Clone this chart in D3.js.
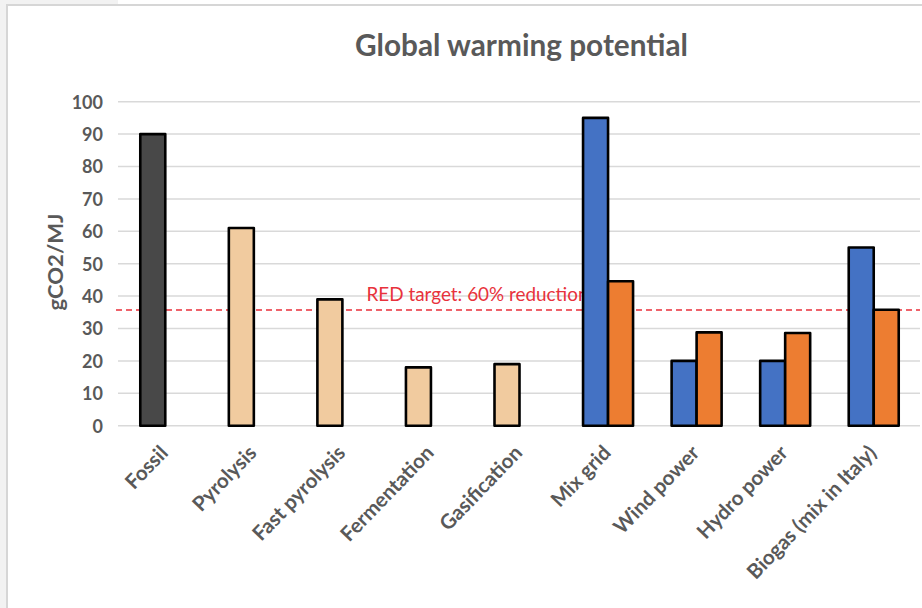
<!DOCTYPE html>
<html>
<head>
<meta charset="utf-8">
<script src="https://cdn.jsdelivr.net/npm/d3@7"></script>
<style>
  html, body { margin: 0; padding: 0; background: #f2f2f2; }
  svg { display: block; }
  text { font-family: Lato, "Open Sans", sans-serif; }
</style>
</head>
<body>
<script>
// Global warming potential of energy carriers, gCO2 per MJ
const categories = ["Fossil", "Pyrolysis", "Fast pyrolysis", "Fermentation", "Gasification",
                    "Mix grid", "Wind power", "Hydro power", "Biogas (mix in Italy)"];
const kinds = ["fossil", "biofuel", "biofuel", "biofuel", "biofuel",
               "electric", "electric", "electric", "electric"];
const firstValues  = [90, 61, 39, 18, 19, 95, 20, 20, 55];
const secondValues = [null, null, null, null, null, 44.6, 28.8, 28.6, 35.8];
const yTicks = [0, 10, 20, 30, 40, 50, 60, 70, 80, 90, 100];
const redTarget = 35.8;
const redLabel = "RED target: 60% reduction";
const title = "Global warming potential";
const yTitle = "gCO2/MJ";

const W = 922, H = 608;
const fills = { fossil: "#484848", biofuel: "#f1cb9f", electric: "#4472c4" };
const secondFill = "#ed7d31";
const textGrey = "#595959";

const svg = d3.select("body").append("svg").attr("width", W).attr("height", H);

// card background and its light frame
svg.append("rect").attr("x", 118).attr("y", 0).attr("width", W - 118).attr("height", 6).attr("fill", "#ffffff");
svg.append("rect").attr("x", 6).attr("y", 4).attr("width", W - 6).attr("height", H - 4)
  .attr("fill", "#ffffff");
svg.append("line").attr("x1", 6).attr("x2", W).attr("y1", 5).attr("y2", 5)
  .attr("stroke", "#d6d6d6").attr("stroke-width", 2);
svg.append("line").attr("x1", 7).attr("x2", 7).attr("y1", 4).attr("y2", H)
  .attr("stroke", "#d6d6d6").attr("stroke-width", 2);

const x = d3.scaleBand().domain(categories).range([121, 918]).padding(0);
const y = d3.scaleLinear().domain([0, 100]).range([425.7, 101.7]);
const barW = 25;

// gridlines
svg.append("g")
  .selectAll("line").data(yTicks).join("line")
  .attr("x1", 118).attr("x2", 920)
  .attr("y1", d => y(d)).attr("y2", d => y(d))
  .attr("stroke", "#d9d9d9").attr("stroke-width", 1.5);

// y axis labels
const yAxis = d3.axisLeft(y).tickValues(yTicks).tickSize(0).tickPadding(0);
const yg = svg.append("g").attr("transform", "translate(103,0)").call(yAxis);
yg.select(".domain").remove();
yg.selectAll("text")
  .attr("fill", textGrey).attr("font-size", 18).attr("font-weight", 700)
  .attr("dy", "0.36em");

// y axis title
svg.append("text")
  .attr("transform", `translate(63,${262}) rotate(-90)`)
  .attr("text-anchor", "middle")
  .attr("fill", textGrey).attr("font-size", 20).attr("font-weight", 700)
  .attr("textLength", 97).attr("lengthAdjust", "spacingAndGlyphs")
  .text(yTitle);

// chart title
svg.append("text")
  .attr("x", 521.5).attr("y", 56)
  .attr("text-anchor", "middle")
  .attr("fill", textGrey).attr("font-size", 30).attr("font-weight", 700)
  .attr("textLength", 333).attr("lengthAdjust", "spacingAndGlyphs")
  .text(title);

// RED target reference line and label (drawn beneath the bars)
svg.append("line")
  .attr("x1", 116).attr("x2", 920)
  .attr("y1", Math.round(y(redTarget))).attr("y2", Math.round(y(redTarget)))
  .attr("stroke", "#ea2f3a").attr("stroke-width", 1.6)
  .attr("stroke-dasharray", "6,4");
svg.append("text")
  .attr("x", 366.5).attr("y", y(redTarget) - 8.5)
  .attr("fill", "#e8323c").attr("font-size", 19.5)
  .attr("textLength", 222).attr("lengthAdjust", "spacingAndGlyphs")
  .text(redLabel);

// bars
const bars = svg.append("g");
bars.selectAll("rect.first").data(categories).join("rect")
  .attr("class", "first")
  .attr("x", d => x(d) + x.bandwidth() / 2 - barW)
  .attr("width", barW)
  .attr("y", (d, i) => y(firstValues[i]))
  .attr("height", (d, i) => y(0) - y(firstValues[i]))
  .attr("fill", (d, i) => fills[kinds[i]])
  .attr("stroke", "#000").attr("stroke-width", 2.6).attr("stroke-linejoin", "round");

const pairs = categories.map((c, i) => ({ c, v: secondValues[i] })).filter(d => d.v != null);
bars.selectAll("rect.second").data(pairs).join("rect")
  .attr("class", "second")
  .attr("x", d => x(d.c) + x.bandwidth() / 2)
  .attr("width", barW)
  .attr("y", d => y(d.v))
  .attr("height", d => y(0) - y(d.v))
  .attr("fill", secondFill)
  .attr("stroke", "#000").attr("stroke-width", 2.6).attr("stroke-linejoin", "round");

// category labels, rotated
const xAxis = d3.axisBottom(x).tickSize(0).tickPadding(0);
const xg = svg.append("g").call(xAxis);
xg.select(".domain").remove();
xg.selectAll(".tick").attr("transform", d => `translate(${x(d) + x.bandwidth() / 2 + 4},454)`);
xg.selectAll("text")
  .attr("y", 0).attr("dy", 0)
  .attr("transform", "rotate(-46)")
  .attr("text-anchor", "end")
  .attr("fill", textGrey).attr("font-size", 20.5).attr("font-weight", 700);
</script>
</body>
</html>
